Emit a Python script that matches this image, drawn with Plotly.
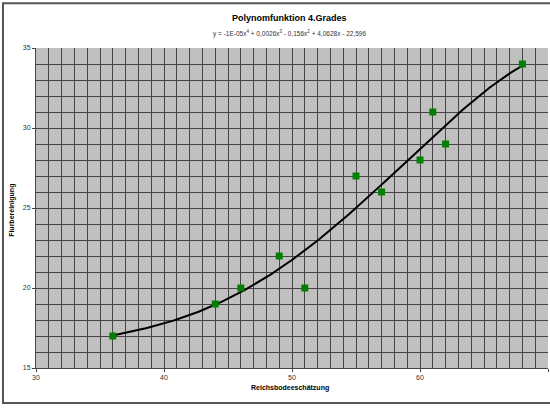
import numpy as np
import plotly.graph_objects as go

# Reichsbodenschätzung vs. Flurbereinigung
boden = [36, 44, 46, 49, 51, 55, 57, 60, 61, 62, 68]
flur = [17, 19, 20, 22, 20, 27, 26, 28, 31, 29, 34]

x_ticks = [30, 40, 50, 60, 70]
y_ticks = [15, 20, 25, 30, 35]

title_text = "Polynomfunktion 4.Grades"
equation_text = "y = -1E-05x<sup>4</sup> + 0,0026x<sup>3</sup> - 0,156x<sup>2</sup> + 4,0628x - 22,596"
x_title = "Reichsbodeeschätzung"
y_title = "Flurbereinigung"

# Excel-style polynomial trendline (degree 4) fitted to the points
coeffs = np.polyfit(boden, flur, 4)
trend_x = np.linspace(min(boden), max(boden), 200)
trend_y = np.polyval(coeffs, trend_x)

fig = go.Figure()

fig.add_trace(go.Scatter(
    x=trend_x,
    y=trend_y,
    mode="lines",
    line=dict(color="black", width=2),
    hoverinfo="skip",
))

fig.add_trace(go.Scatter(
    x=boden,
    y=flur,
    mode="markers",
    marker=dict(symbol="square", color="#008000", size=7, line=dict(width=0)),
))

axis_common = dict(
    automargin=False,
    showgrid=True,
    gridcolor="#454545",
    gridwidth=1,
    zeroline=False,
    showline=True,
    linecolor="#454545",
    linewidth=1,
    ticks="outside",
    ticklen=3,
    tickcolor="#454545",
    tickfont=dict(size=7, color="#333333", family="Liberation Sans, Arial"),
    minor=dict(dtick=1, showgrid=True, gridcolor="#454545", gridwidth=1, ticks=""),
)

fig.update_xaxes(range=[30, 70], tickvals=x_ticks, **axis_common)
fig.update_yaxes(range=[15, 35], tickvals=y_ticks, **axis_common)

fig.update_layout(
    width=550,
    height=408,
    margin=dict(l=36, r=2, t=48, b=40),
    plot_bgcolor="#C0C0C0",
    paper_bgcolor="white",
    showlegend=False,
    font=dict(family="Liberation Sans, Arial", color="black"),
    annotations=[
        dict(text="<b>" + title_text + "</b>", x=0.496, y=1.094, xref="paper", yref="paper",
             xanchor="center", yanchor="middle",
             showarrow=False, font=dict(size=9, color="black")),
        dict(text=equation_text, x=0.496, y=1.044, xref="paper", yref="paper",
             xanchor="center", yanchor="middle",
             showarrow=False, font=dict(size=6.5, color="#333333")),
        dict(text="<b>" + x_title + "</b>", x=0.496, y=-0.0625, xref="paper", yref="paper",
             xanchor="center", yanchor="middle",
             showarrow=False, font=dict(size=7, color="black")),
        dict(text="<b>" + y_title + "</b>", x=-0.047, y=0.494, xref="paper", yref="paper",
             xanchor="center", yanchor="middle",
             showarrow=False, textangle=-90, font=dict(size=7, color="black")),
    ],
    shapes=[
        dict(type="rect", xref="paper", yref="paper",
             x0=-0.0645, x1=1.01, y0=-0.109, y1=1.14,
             line=dict(color="#555555", width=2), layer="below"),
    ],
)

# drop the browser's default page margin so the figure sits at the window corner
fig.write_html("out.html", config={"displayModeBar": False},
               post_script="document.body.style.margin='0';")
